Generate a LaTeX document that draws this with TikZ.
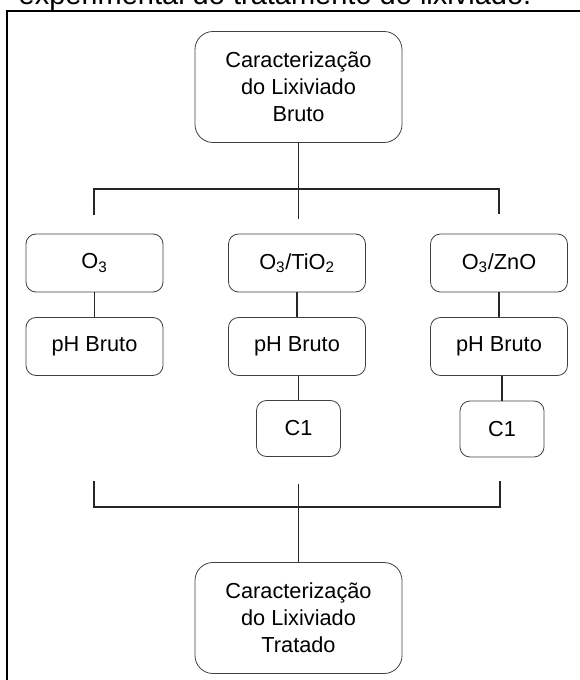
\documentclass[tikz,border=0pt]{standalone}
\usepackage{fontspec}
\setmainfont{Liberation Sans}
\begin{document}
\begin{tikzpicture}[x=0.75pt,y=-0.75pt]
\tikzset{
 box/.style={draw=black!75, line width=0.6pt, rounded corners=7.5pt, inner sep=0pt,
   minimum width=102.75pt, minimum height=43.5pt,
   font=\fontsize{16.3}{20.25}\selectfont, align=center},
 bigbox/.style={box, rounded corners=13.5pt, minimum width=155.25pt, minimum height=83.25pt},
 cbox/.style={box, minimum width=63pt, minimum height=42pt},
 conn/.style={line width=0.9pt, black!85},
 frameline/.style={line width=1.3pt}
}
\useasboundingbox (0,0) rectangle (579,680);
\node[anchor=base, inner sep=0pt, font=\fontsize{21.75}{26}\selectfont] (title) at (275,5) {experimental do tratamento do lixiviado.};
\draw[frameline] (7,690) -- (7,11) -- (590,11);

\node[bigbox] (top) at (298.5,87) {Caracterização\\do Lixiviado\\Bruto};
\node[box] (o3) at (94.5,263) {O\textsubscript{3}};
\node[box] (tio) at (297,263) {O\textsubscript{3}/TiO\textsubscript{2}};
\node[box] (zno) at (499,263) {O\textsubscript{3}/ZnO};
\node[box] (ph1) at (94.5,346.5) {pH Bruto};
\node[box] (ph2) at (297,346.5) {pH Bruto};
\node[box] (ph3) at (499,346.5) {pH Bruto};
\node[cbox] (c2) at (298.5,428.5) {C1};
\node[cbox] (c3) at (502,429) {C1};
\node[bigbox] (bot) at (298.5,618) {Caracterização\\do Lixiviado\\Tratado};

\coordinate (jl) at (94,189);
\coordinate (jr) at (499,189);
\coordinate (dl) at (94,215);
\coordinate (dm) at (298.5,219);
\coordinate (dr) at (499,214);
\draw[conn] (top.south) -- (dm);
\draw[conn] (dl) -- (jl) -- (jr) -- (dr);

\draw[conn] (o3.south) -- (ph1.north);
\draw[conn] (tio.south) -- (ph2.north);
\draw[conn] (zno.south) -- (ph3.north);
\draw[conn] (ph2.south -| c2.north) -- (c2.north);
\draw[conn] (ph3.south -| c3.north) -- (c3.north);

\coordinate (ul) at (94,481);
\coordinate (bl) at (94,507);
\coordinate (br) at (500,507);
\coordinate (ur) at (500,481);
\coordinate (um) at (298.5,484);
\draw[conn] (ul) -- (bl) -- (br) -- (ur);
\draw[conn] (um) -- (bot.north);
\end{tikzpicture}
\end{document}
